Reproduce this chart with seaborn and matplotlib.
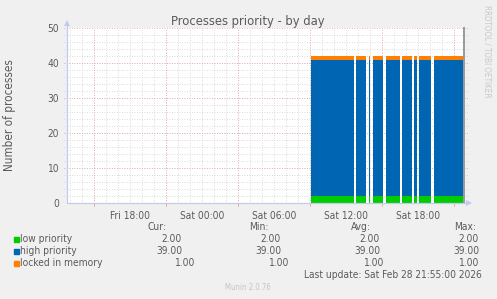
import numpy as np
import pandas as pd
import matplotlib
matplotlib.use("Agg")
import matplotlib.pyplot as plt
import matplotlib.dates as mdates
import seaborn as sns

# ---------------- data ----------------
title = "Processes priority - by day"
y_label = "Number of processes"
series_names = ["low priority", "high priority", "locked in memory"]
series_colors = ["#00CC00", "#0066B3", "#FF8000"]

# time segments (5-minute samples) where data exists
seg_start = ["2026-02-28 09:05", "2026-02-28 12:50", "2026-02-28 13:55",
             "2026-02-28 14:15", "2026-02-28 15:20", "2026-02-28 16:40",
             "2026-02-28 17:40", "2026-02-28 18:05", "2026-02-28 19:20"]
seg_end = ["2026-02-28 12:40", "2026-02-28 13:40", "2026-02-28 14:00",
           "2026-02-28 15:05", "2026-02-28 16:30", "2026-02-28 17:30",
           "2026-02-28 17:55", "2026-02-28 19:05", "2026-02-28 21:50"]
low_priority = [2, 2, 2, 2, 2, 2, 2, 2, 2]
high_priority = [39, 39, 39, 39, 39, 39, 39, 39, 39]
locked_in_memory = [1, 1, 1, 1, 1, 1, 1, 1, 1]

x_start = "2026-02-27 12:45"
x_end = "2026-02-28 21:50"
x_tick_times = ["2026-02-27 18:00", "2026-02-28 00:00", "2026-02-28 06:00",
                "2026-02-28 12:00", "2026-02-28 18:00"]
x_tick_labels = ["Fri 18:00", "Sat 00:00", "Sat 06:00", "Sat 12:00", "Sat 18:00"]
y_ticks = [0, 10, 20, 30, 40, 50]

stat_headers = ["Cur:", "Min:", "Avg:", "Max:"]
stat_cur = ["2.00", "39.00", "1.00"]
stat_min = ["2.00", "39.00", "1.00"]
stat_avg = ["2.00", "39.00", "1.00"]
stat_max = ["2.00", "39.00", "1.00"]
last_update = "Last update: Sat Feb 28 21:55:00 2026"
version_text = "Munin 2.0.76"
side_text = "RRDTOOL / TOBI OETIKER"

# ---------------- style ----------------
sns.set_style("white")
plt.rcParams["font.family"] = ["DejaVu Sans"]
plt.rcParams["font.stretch"] = "condensed"
TXT = "#5A5A5A"
W, H = 497, 299
fig = plt.figure(figsize=(W / 100, H / 100), dpi=100, facecolor="#F0F0F0")

def fx(px):
    return px / W

def fy(py):
    return 1 - py / H

L, R, T, B = 67, 464, 28.3, 203.3
ax = fig.add_axes([fx(L), fy(B), fx(R) - fx(L), fy(T) - fy(B)])
ax.set_facecolor("white")

df = pd.DataFrame({
    "start": pd.to_datetime(seg_start),
    "end": pd.to_datetime(seg_end),
    "low priority": low_priority,
    "high priority": high_priority,
    "locked in memory": locked_in_memory,
})

x0, x1 = pd.Timestamp(x_start), pd.Timestamp(x_end)
ax.set_xlim(x0, x1)
ax.set_ylim(0, 50)

# grid: minor gray, major red (dotted)
gray = "#CFCFCF"
red = "#E4A2A2"
dots = (0, (1, 2))
hours = pd.date_range(x0.ceil("h"), x1, freq="h")
for hr in hours:
    ax.axvline(hr, color=gray, lw=0.6, ls=dots, zorder=0)
for yv in np.arange(2, 50, 2):
    ax.axhline(yv, xmin=-0.008, xmax=1.013, color=gray, lw=0.6, ls=dots,
               zorder=0, clip_on=False)
for hr in hours:
    if hr.hour % 6 == 3:
        ax.axvline(hr, color=red, lw=0.6, ls=dots, zorder=0.5)
for yv in y_ticks[1:]:
    ax.axhline(yv, xmin=-0.008, xmax=1.013, color=red, lw=0.6, ls=dots,
               zorder=0.5, clip_on=False)

# stacked areas
for _, row in df.iterrows():
    bottom = 0
    for name, col in zip(series_names, series_colors):
        val = row[name]
        ax.fill_between([row["start"], row["end"]], [bottom, bottom],
                        [bottom + val, bottom + val], color=col, lw=0,
                        zorder=2)
        bottom += val

# ticks
ax.set_xticks(pd.to_datetime(x_tick_times))
ax.set_xticklabels(x_tick_labels)
ax.set_yticks(y_ticks)
ax.tick_params(axis="x", length=2.5, width=0.6, color=red, pad=3.0,
               labelsize=7.3, labelcolor=TXT)
ax.tick_params(axis="y", length=0, width=0.6, color=red, pad=5.6,
               labelsize=7.3, labelcolor=TXT)
for hr in hours:
    if hr.hour % 6 == 3:
        ax.plot([hr, hr], [0, -0.016], transform=ax.get_xaxis_transform(),
                color=red, lw=0.6, clip_on=False, zorder=1)

for s in ["top", "left", "bottom"]:
    ax.spines[s].set_visible(False)
ax.spines["right"].set_color("#9A9A9A")
ax.spines["right"].set_linewidth(1.4)
ax.spines["right"].set_zorder(3)

axis_col = "#C4CAEE"
ax.plot([0, 0], [0, 1.03], transform=ax.transAxes, color=axis_col, lw=0.9,
        clip_on=False, zorder=4)
ax.plot([0], [1.03], transform=ax.transAxes, marker="^", ms=4.5,
        color=axis_col, clip_on=False, zorder=4, mew=0)
ax.plot([0, 1.013], [0, 0], transform=ax.transAxes, color=axis_col, lw=0.9,
        clip_on=False, zorder=4)
ax.plot([1.013], [0], transform=ax.transAxes, marker=">", ms=4.5,
        color=axis_col, clip_on=False, zorder=4, mew=0)

# texts
fig.text(fx(248), fy(25.3), title, ha="center", va="baseline", fontsize=9.3,
         color=TXT)
fig.text(fx(10), fy(115), y_label, ha="center", va="center", rotation=90,
         fontsize=8.4, color=TXT)
fig.text(fx(487), fy(5), side_text, ha="center", va="top", rotation=-90,
         fontsize=5.8, color="#C8C8C8")

row_y = [239.5, 251.5, 263.5]
for name, col, yy in zip(series_names, series_colors, row_y):
    fig.patches.append(plt.Rectangle((fx(14), fy(yy + 2.3)), fx(5.3),
                                     4.6 / H, transform=fig.transFigure,
                                     color=col, figure=fig))
    fig.text(fx(20.5), fy(yy), name, ha="left", va="center", fontsize=7.3,
             color=TXT)

hdr_right = [166, 269, 371, 476]
for h, xr in zip(stat_headers, hdr_right):
    fig.text(fx(xr), fy(227), h, ha="right", va="center", fontsize=7.3,
             color=TXT)

rows_right = [[182, 281, 380, 479], [182, 281, 380, 479], [195, 289, 384, 479]]
for i in range(3):
    vals = [stat_cur[i], stat_min[i], stat_avg[i], stat_max[i]]
    for v, xr in zip(vals, rows_right[i]):
        fig.text(fx(xr), fy(row_y[i]), v, ha="right", va="center",
                 fontsize=7.3, color=TXT)

fig.text(fx(482), fy(275), last_update, ha="right", va="center", fontsize=7.3,
         color=TXT)
fig.text(fx(248), fy(287), version_text, ha="center", va="center",
         fontsize=5.6, color="#C4C4C4")

fig.savefig("out.png", dpi=100, facecolor=fig.get_facecolor())
